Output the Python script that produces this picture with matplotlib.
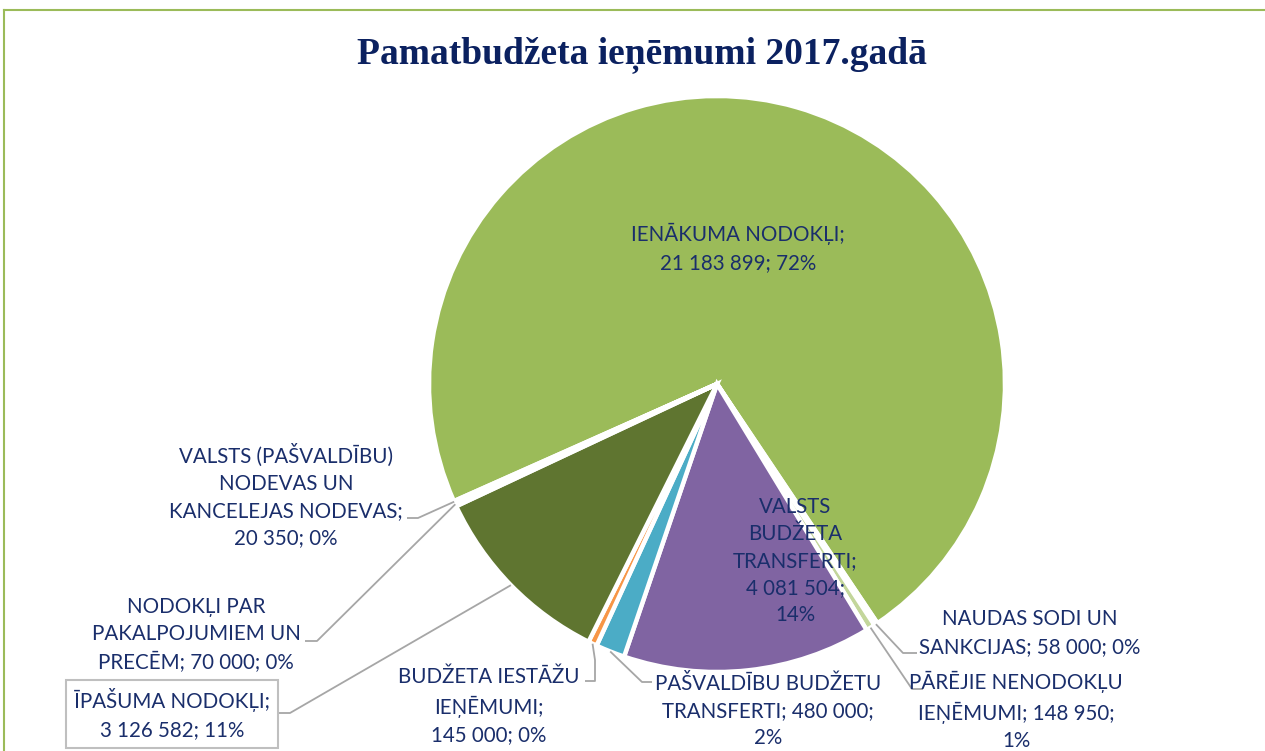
import matplotlib
matplotlib.use("Agg")
import matplotlib.pyplot as plt
import numpy as np
from matplotlib.lines import Line2D

plt.rcParams['font.family'] = ['Lato', 'DejaVu Sans']

W, H = 1265, 751

# ---- data (clockwise order as drawn) ----
categories = [
    "IENĀKUMA NODOKĻI",
    "NAUDAS SODI UN SANKCIJAS",
    "PĀRĒJIE NENODOKĻU IEŅĒMUMI",
    "VALSTS BUDŽETA TRANSFERTI",
    "PAŠVALDĪBU BUDŽETU TRANSFERTI",
    "BUDŽETA IESTĀŽU IEŅĒMUMI",
    "ĪPAŠUMA NODOKĻI",
    "NODOKĻI PAR PAKALPOJUMIEM UN PRECĒM",
    "VALSTS (PAŠVALDĪBU) NODEVAS UN KANCELEJAS NODEVAS",
]
values = [21183899, 58000, 148950, 4081504, 480000, 145000, 3126582, 70000, 20350]
value_labels = ["21 183 899", "58 000", "148 950", "4 081 504", "480 000",
                "145 000", "3 126 582", "70 000", "20 350"]
label_text = [
    "IENĀKUMA NODOKĻI;\n{v}; {p}",
    "NAUDAS SODI UN\nSANKCIJAS; {v}; {p}",
    "PĀRĒJIE NENODOKĻU\nIEŅĒMUMI; {v};\n{p}",
    "VALSTS\nBUDŽETA\nTRANSFERTI;\n{v};\n{p}",
    "PAŠVALDĪBU BUDŽETU\nTRANSFERTI; {v};\n{p}",
    "BUDŽETA IESTĀŽU\nIEŅĒMUMI;\n{v}; {p}",
    "ĪPAŠUMA NODOKĻI;\n{v}; {p}",
    "NODOKĻI PAR\nPAKALPOJUMIEM UN\nPRECĒM; {v}; {p}",
    "VALSTS (PAŠVALDĪBU)\nNODEVAS UN\nKANCELEJAS NODEVAS;\n{v}; {p}",
]
colors = ["#9BBB59", "#C3D69B", "#C3D69B", "#8064A2", "#4BACC6",
          "#F79646", "#5F7530", "#77933C", "#4F6228"]

# ---- layout (pixel positions) ----
cx, cy, R = 717, 384, 288
label_pos = [(738, 248), (1030, 633), (1016, 711), (795, 561), (768, 711),
             (489, 706), (172, 714), (196, 635), (286, 496)]
leaders = [
    None,
    [(917, 653), (903, 653)],
    [(923, 689), (912, 689)],
    None,
    [(652, 682), (642, 682)],
    [(585, 681), (595, 681), (595, 660)],
    [(277, 713), (290, 713)],
    [(305, 641), (317, 641)],
    [(407, 518), (418, 518)],
]

def Y(py):
    return H - py

fig = plt.figure(figsize=(W / 100, H / 100), dpi=100)
ax = fig.add_axes([0, 0, 1, 1])

total = float(sum(values))
wedges, _ = ax.pie(values, colors=colors, startangle=204, counterclock=False,
                   radius=R, center=(cx, Y(cy)),
                   wedgeprops=dict(edgecolor="white", linewidth=3.2))
ax.set_xlim(0, W)
ax.set_ylim(0, H)
ax.set_aspect("equal")
ax.axis("off")

txt_color = "#1A2E6B"
line_color = "#A6A6A6"
for i, w in enumerate(wedges):
    pct = "{:.0f}%".format(100 * values[i] / total)
    s = label_text[i].format(v=value_labels[i], p=pct)
    lx, ly = label_pos[i]
    bbox = None
    if i == 6:
        bbox = dict(boxstyle="square,pad=0.4", fc="white", ec="#BFBFBF", lw=1.5)
    ax.text(lx, Y(ly), s, ha="center", va="center", fontsize=14.8,
            color=txt_color, linespacing=1.45, multialignment="center",
            bbox=bbox, zorder=5)
    if leaders[i] is not None:
        mid = np.deg2rad((w.theta1 + w.theta2) / 2.0)
        ax_ = w.center[0] + w.r * np.cos(mid)
        ay_ = w.center[1] + w.r * np.sin(mid)
        xs = [p[0] for p in leaders[i]] + [ax_]
        ys = [Y(p[1]) for p in leaders[i]] + [ay_]
        ax.plot(xs, ys, color=line_color, lw=1.3, solid_capstyle="butt", zorder=4)

ax.text(642, Y(55), "Pamatbudžeta ieņēmumi 2017.gadā", ha="center", va="center",
        fontsize=27, fontweight="bold", family=["Liberation Serif", "DejaVu Serif"],
        color="#0B2160")

# outer chart border (top and left visible)
fig.add_artist(Line2D([4 / W, 1], [1 - 10 / H, 1 - 10 / H], color="#9BBB59", lw=1.5,
                      transform=fig.transFigure))
fig.add_artist(Line2D([4 / W, 4 / W], [0, 1 - 10 / H], color="#9BBB59", lw=1.5,
                      transform=fig.transFigure))

fig.savefig("out.png", dpi=100, facecolor="white")
